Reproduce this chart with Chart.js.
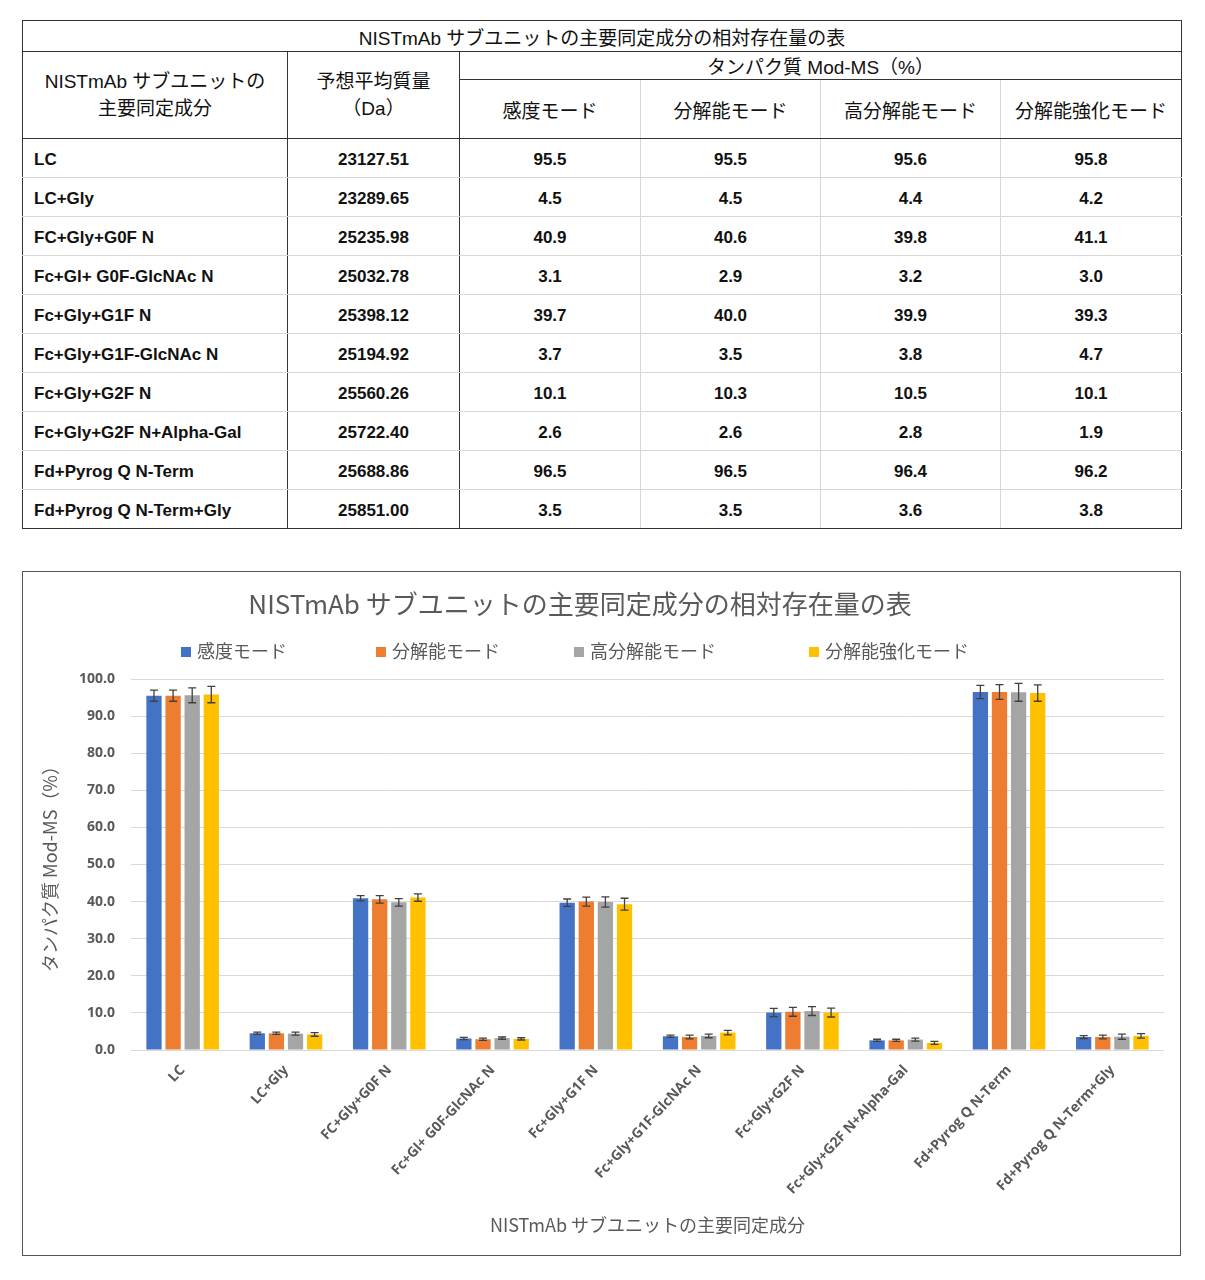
<!DOCTYPE html>
<html>
<head>
<meta charset="utf-8">
<script src="https://cdn.jsdelivr.net/npm/chart.js@4.4.1/dist/chart.umd.min.js"></script>
<style>
  body { margin: 0; background: #fff; font-family: "Liberation Sans", "Noto Sans CJK JP", sans-serif; }
  #tbl { position: absolute; left: 22px; top: 20px; width: 1159px; border-collapse: collapse; color: #111; table-layout: fixed; }
  #tbl th, #tbl td { border: 1px solid #d6d6d6; padding: 0; text-align: center; }
  #tbl th { font-weight: normal; font-size: 19px; }
  #tbl td { font-weight: bold; font-size: 17px; height: 35px; padding-top: 3px; }
  #tbl td.name { text-align: left; padding-left: 11px; }
  #tbl .dk { border-color: #333; }
  #tbl .dr { border-right: 1px solid #333; }
  #tbl .db { border-bottom: 1px solid #333; }
  #tbl tr:last-child td { border-bottom: 1px solid #333; }
  #tbl td:last-child, #tbl th:last-child { border-right: 1px solid #333; }
  #tbl td:first-child { border-left: 1px solid #333; }
  #box { position: absolute; left: 22px; top: 571px; width: 1159px; height: 685px; box-sizing: border-box; border: 1px solid #555; }
  #box canvas { position: absolute; left: 0; top: 0; }
  #ctitle { position: absolute; left: 0; width: 1114px; top: 12px; text-align: center; font-family: "Noto Sans CJK JP", sans-serif; font-size: 26px; color: #595959; }
  .lg { position: absolute; top: 66px; font-family: "Noto Sans CJK JP", sans-serif; font-size: 18px; color: #595959; line-height: 24px; white-space: nowrap; }
  .lg i { display: inline-block; width: 10px; height: 10px; margin-right: 6px; vertical-align: 1px; }
</style>
</head>
<body>
<table id="tbl"></table>
<div id="box">
  <canvas id="modChart" width="1157" height="683"></canvas>
  <div id="ctitle"></div>
  <div id="legend"></div>
</div>
<script>
const chartTitle = 'NISTmAb サブユニットの主要同定成分の相対存在量の表';
const categories = ['LC', 'LC+Gly', 'FC+Gly+G0F N', 'Fc+Gl+ G0F-GlcNAc N', 'Fc+Gly+G1F N',
  'Fc+Gly+G1F-GlcNAc N', 'Fc+Gly+G2F N', 'Fc+Gly+G2F N+Alpha-Gal', 'Fd+Pyrog Q N-Term', 'Fd+Pyrog Q N-Term+Gly'];
const masses = ['23127.51', '23289.65', '25235.98', '25032.78', '25398.12', '25194.92', '25560.26', '25722.40', '25688.86', '25851.00'];
const seriesNames = ['感度モード', '分解能モード', '高分解能モード', '分解能強化モード'];
const seriesColors = ['#4472C4', '#ED7D31', '#A5A5A5', '#FFC000'];

// relative abundance (%)
const sensitivity = [95.5, 4.5, 40.9, 3.1, 39.7, 3.7, 10.1, 2.6, 96.5, 3.5];
const resolution  = [95.5, 4.5, 40.6, 2.9, 40.0, 3.5, 10.3, 2.6, 96.5, 3.5];
const highRes     = [95.6, 4.4, 39.8, 3.2, 39.9, 3.8, 10.5, 2.8, 96.4, 3.6];
const enhanced    = [95.8, 4.2, 41.1, 3.0, 39.3, 4.7, 10.1, 1.9, 96.2, 3.8];

// error bars (+/-)
const sensitivityErr = [1.5, 0.3, 0.7, 0.3, 1.0, 0.3, 1.1, 0.3, 1.8, 0.4];
const resolutionErr  = [1.5, 0.3, 1.0, 0.3, 1.2, 0.5, 1.2, 0.3, 2.0, 0.5];
const highResErr     = [2.0, 0.4, 1.0, 0.3, 1.4, 0.5, 1.2, 0.4, 2.4, 0.7];
const enhancedErr    = [2.2, 0.5, 1.0, 0.3, 1.6, 0.6, 1.2, 0.4, 2.2, 0.6];

const yTicks = [0, 10, 20, 30, 40, 50, 60, 70, 80, 90, 100];

const values = [sensitivity, resolution, highRes, enhanced];
const errors = [sensitivityErr, resolutionErr, highResErr, enhancedErr];

// ---- table ----
const tbl = document.getElementById('tbl');
let html = '<colgroup><col style="width:265px"><col style="width:172px"><col style="width:181px">' +
  '<col style="width:180px"><col style="width:180px"><col style="width:181px"></colgroup>';
html += '<tr style="height:31px"><th colspan="6" class="dk">' + chartTitle + '</th></tr>';
html += '<tr style="height:28px"><th rowspan="2" class="dk" style="line-height:27px">NISTmAb サブユニットの<br>主要同定成分</th>' +
  '<th rowspan="2" class="dk" style="line-height:27px">予想平均質量<br>（Da）</th>' +
  '<th colspan="4" class="dk">タンパク質 Mod-MS（%）</th></tr>';
html += '<tr style="height:59px">' + seriesNames.map(n => '<th class="db">' + n + '</th>').join('') + '</tr>';
categories.forEach((c, i) => {
  html += '<tr><td class="name dr">' + c + '</td><td class="dr">' + masses[i] + '</td>' +
    values.map(v => '<td>' + v[i].toFixed(1) + '</td>').join('') + '</tr>';
});
tbl.innerHTML = html;

// ---- title + legend ----
document.getElementById('ctitle').textContent = chartTitle;
const legendLeft = [158, 353, 551, 786];
document.getElementById('legend').innerHTML = seriesNames.map((n, i) =>
  '<div class="lg" style="left:' + legendLeft[i] + 'px"><i style="background:' + seriesColors[i] + '"></i>' + n + '</div>').join('');

// ---- error bars plugin ----
const errorBars = {
  id: 'errorBars',
  afterDatasetsDraw(chart) {
    const ctx = chart.ctx;
    const y = chart.scales.y;
    ctx.save();
    ctx.strokeStyle = '#404040';
    ctx.lineWidth = 1.3;
    chart.data.datasets.forEach((ds, di) => {
      const meta = chart.getDatasetMeta(di);
      meta.data.forEach((bar, i) => {
        const v = ds.data[i], e = errors[di][i];
        const top = y.getPixelForValue(v + e), bot = y.getPixelForValue(v - e);
        ctx.beginPath();
        ctx.moveTo(bar.x, top); ctx.lineTo(bar.x, bot);
        ctx.moveTo(bar.x - 4, top); ctx.lineTo(bar.x + 4, top);
        ctx.moveTo(bar.x - 4, bot); ctx.lineTo(bar.x + 4, bot);
        ctx.stroke();
      });
    });
    ctx.restore();
  }
};

Chart.defaults.font.family = "'Open Sans', 'Noto Sans CJK JP', sans-serif";
Chart.defaults.color = '#595959';

new Chart(document.getElementById('modChart'), {
  type: 'bar',
  data: {
    labels: categories,
    datasets: seriesNames.map((n, i) => ({
      label: n,
      data: values[i],
      backgroundColor: seriesColors[i],
      categoryPercentage: 0.74,
      barPercentage: 0.8
    }))
  },
  options: {
    responsive: false,
    animation: false,
    layout: { padding: { top: 107, right: 16, left: 0, bottom: 0 } },
    plugins: { legend: { display: false }, tooltip: { enabled: false } },
    scales: {
      x: {
        grid: { display: false },
        border: { display: false },
        ticks: { autoSkip: false, minRotation: 47, maxRotation: 47, padding: 4, font: { size: 14, weight: 'bold' } },
        title: { display: true, text: 'NISTmAb サブユニットの主要同定成分', font: { size: 18, family: "'Noto Sans CJK JP', sans-serif" }, padding: { bottom: 19 } },
        afterFit: s => { s.height = 205; }
      },
      y: {
        min: 0, max: 100,
        afterBuildTicks: s => { s.ticks = yTicks.map(v => ({ value: v })); },
        grid: { color: '#d9d9d9', drawTicks: false },
        border: { display: false },
        ticks: { padding: 16, font: { size: 14, weight: 'bold' }, callback: v => v.toFixed(1) },
        title: { display: true, text: 'タンパク質 Mod-MS（%）', font: { size: 18, family: "'Noto Sans CJK JP', sans-serif" }, padding: { top: 16 } },
        afterFit: s => { s.width = 108; }
      }
    }
  },
  plugins: [errorBars]
});
</script>
</body>
</html>
